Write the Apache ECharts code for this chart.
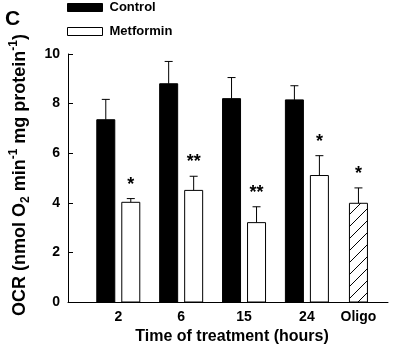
<!DOCTYPE html>
<html>
<head>
<meta charset="utf-8">
<script src="https://cdn.jsdelivr.net/npm/echarts@6/dist/echarts.min.js"></script>
<style>
  html, body { margin: 0; padding: 0; background: #fff; }
  #main { width: 400px; height: 353px; }
</style>
</head>
<body>
<div id="main"></div>
<script>
// 时间点
const categories = ['2', '6', '15', '24', 'Oligo']
// OCR values (mean) and error (upper)
const controlValues = [7.35, 8.8, 8.2, 8.15]
const controlErr = [0.82, 0.9, 0.85, 0.57]
const metforminValues = [4.02, 4.5, 3.2, 5.1]
const metforminErr = [0.15, 0.57, 0.64, 0.8]
const metforminStars = ['*', '**', '**', '*']
const oligoValue = 3.98
const oligoErr = 0.62
const oligoStars = ['*']
const yTicks = [0, 2, 4, 6, 8, 10]

const FONT = '"Liberation Sans", Arial, Helvetica, sans-serif'
// x position of each group on the value axis (Oligo sits a bit closer)
const slots = [0, 1, 2, 3, 3.82]

/** hatch pattern for the oligo bar */
function makeHatch() {
  const c = document.createElement('canvas')
  c.width = 12
  c.height = 12
  const ctx = c.getContext('2d')
  ctx.fillStyle = '#fff'
  ctx.fillRect(0, 0, 12, 12)
  ctx.strokeStyle = '#000'
  ctx.lineWidth = 1
  ctx.beginPath()
  ctx.moveTo(-1, 13)
  ctx.lineTo(13, -1)
  ctx.stroke()
  return c
}
const hatch = makeHatch()

/** one bar + error bar + significance stars */
function barRenderer(offset, fill, stars) {
  return function (params, api) {
    const x = api.value(0)
    const v = api.value(1)
    const e = api.value(2)
    const star = stars ? stars[params.dataIndex] : ''
    const base = api.coord([x, 0])
    const top = api.coord([x, v])
    const errTop = api.coord([x, v + e])
    const cx = base[0] + offset
    const w = 18
    const children = [
      {
        type: 'line',
        shape: { x1: cx, y1: top[1], x2: cx, y2: errTop[1] },
        style: { stroke: '#000', lineWidth: 1 }
      },
      {
        type: 'line',
        shape: { x1: cx - 4, y1: errTop[1], x2: cx + 4, y2: errTop[1] },
        style: { stroke: '#000', lineWidth: 1 }
      },
      {
        type: 'rect',
        shape: { x: cx - w / 2, y: top[1], width: w, height: base[1] - top[1] },
        style: { fill: fill, stroke: '#000', lineWidth: 1 }
      }
    ]
    if (star) {
      children.push({
        type: 'text',
        style: {
          x: cx,
          y: errTop[1] - 14,
          text: star,
          align: 'center',
          verticalAlign: 'middle',
          font: 'bold 18px ' + FONT,
          fill: '#000'
        }
      })
    }
    return { type: 'group', children: children }
  }
}

const controlData = controlValues.map((v, i) => [slots[i], v, controlErr[i]])
const metforminData = metforminValues.map((v, i) => [slots[i], v, metforminErr[i]])
const oligoData = [[slots[4], oligoValue, oligoErr]]

const chart = echarts.init(document.getElementById('main'))
chart.setOption({
  animation: false,
  textStyle: { fontFamily: FONT },
  title: {
    text: 'C',
    left: 5,
    top: 9,
    padding: 0,
    textStyle: { fontSize: 21, fontWeight: 'bold', color: '#000', fontFamily: FONT }
  },
  legend: {
    orient: 'vertical',
    left: 67,
    top: 1,
    padding: 0,
    itemGap: 11,
    itemWidth: 35,
    itemHeight: 8,
    icon: 'rect',
    selectedMode: false,
    textStyle: { fontSize: 13, fontWeight: 'bold', color: '#000', fontFamily: FONT, padding: [0, 0, 0, 2] },
    data: [
      { name: 'Control', itemStyle: { color: '#000', borderColor: '#000', borderWidth: 1 } },
      { name: 'Metformin', itemStyle: { color: '#fff', borderColor: '#000', borderWidth: 1 } }
    ]
  },
  grid: { left: 57, right: 12, top: 54, bottom: 51 },
  xAxis: {
    type: 'value',
    min: -0.8,
    max: 4.29,
    name: 'Time of treatment (hours)',
    nameLocation: 'middle',
    nameGap: 22,
    nameTextStyle: { fontSize: 16, fontWeight: 'bold', color: '#000', fontFamily: FONT, padding: [0, 0, 0, 8] },
    axisLine: { onZero: false, lineStyle: { color: '#000', width: 1 } },
    axisTick: { show: false },
    splitLine: { show: false },
    axisLabel: {
      customValues: slots,
      margin: 8,
      fontSize: 14,
      fontWeight: 'bold',
      color: '#000',
      fontFamily: FONT,
      formatter: v => categories[slots.indexOf(v)]
    }
  },
  yAxis: {
    type: 'value',
    min: 0,
    max: 10,
    interval: 2,
    name: '{t|OCR (nmol O}{sub|2}{t| min}{sup|-1}{t| mg protein}{sup|-1}{t|)}',
    nameLocation: 'middle',
    nameGap: 36,
    nameTextStyle: {
      padding: [0, 0, 0, 6],
      rich: {
        t: { fontSize: 18, fontWeight: 'bold', color: '#000', fontFamily: FONT, lineHeight: 24 },
        sub: { fontSize: 12, fontWeight: 'bold', color: '#000', fontFamily: FONT, verticalAlign: 'bottom', lineHeight: 24 },
        sup: { fontSize: 12, fontWeight: 'bold', color: '#000', fontFamily: FONT, verticalAlign: 'top', lineHeight: 24 }
      }
    },
    axisLine: { show: true, onZero: false, lineStyle: { color: '#000', width: 1 } },
    axisTick: { show: true, inside: true, length: 5, lineStyle: { color: '#000' } },
    splitLine: { show: false },
    axisLabel: {
      customValues: yTicks,
      margin: 8,
      fontSize: 14,
      fontWeight: 'bold',
      color: '#000',
      fontFamily: FONT
    }
  },
  series: [
    {
      name: 'Control',
      type: 'custom',
      itemStyle: { color: '#000' },
      encode: { x: 0, y: [1, 2] },
      renderItem: barRenderer(-12.5, '#000'),
      data: controlData
    },
    {
      name: 'Metformin',
      type: 'custom',
      itemStyle: { color: '#fff' },
      encode: { x: 0, y: [1, 2] },
      renderItem: barRenderer(12.5, '#fff', metforminStars),
      data: metforminData
    },
    {
      name: 'Oligo',
      type: 'custom',
      encode: { x: 0, y: [1, 2] },
      renderItem: barRenderer(0, { image: hatch, repeat: 'repeat' }, oligoStars),
      data: oligoData
    }
  ]
})
</script>
</body>
</html>
